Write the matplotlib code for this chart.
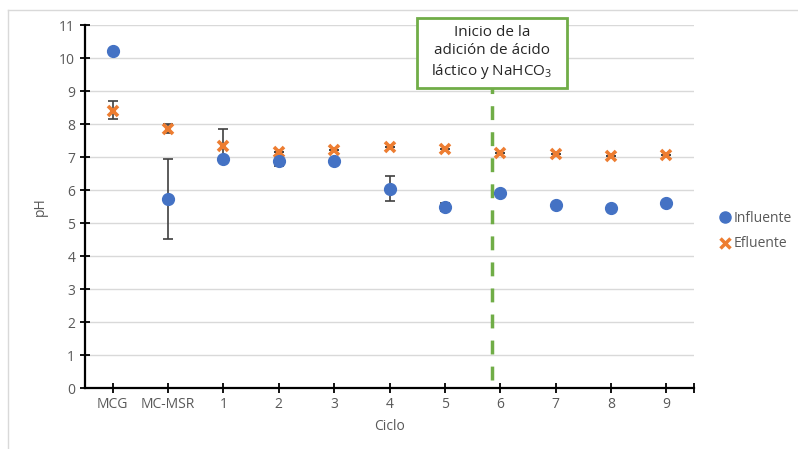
import numpy as np
import matplotlib.pyplot as plt
import matplotlib.patches as mpatches
from matplotlib.lines import Line2D

plt.rcParams['font.family'] = ['Open Sans', 'DejaVu Sans']

ciclos = ['MCG', 'MC-MSR', '1', '2', '3', '4', '5', '6', '7', '8', '9']
influente = [10.23, 5.73, 6.94, 6.89, 6.89, 6.05, 5.50, 5.92, 5.55, 5.45, 5.60]
efluente = [8.40, 7.87, 7.33, 7.17, 7.22, 7.32, 7.24, 7.13, 7.11, 7.05, 7.08]
# error bars (lower, upper)
inf_err_lo = [0.0, 1.21, 0.08, 0.15, 0.0, 0.37, 0.12, 0.0, 0.0, 0.0, 0.0]
inf_err_hi = [0.0, 1.21, 0.08, 0.05, 0.0, 0.39, 0.12, 0.0, 0.0, 0.0, 0.0]
ef_err_lo = [0.25, 0.14, 0.40, 0.0, 0.0, 0.0, 0.0, 0.0, 0.0, 0.0, 0.0]
ef_err_hi = [0.30, 0.13, 0.52, 0.0, 0.0, 0.0, 0.0, 0.0, 0.0, 0.0, 0.0]

blue = '#4472C4'
orange = '#ED7D31'
green = '#70AD47'
grey_txt = '#595959'

fig = plt.figure(figsize=(7.98, 4.49), dpi=100)
ax = fig.add_axes([0.1065, 0.1352, 0.7632, 0.8085])
x = np.arange(len(ciclos))

ax.errorbar(x, efluente, yerr=[ef_err_lo, ef_err_hi], fmt='none', ecolor='#404040',
            elinewidth=1.2, capsize=3.5, capthick=1.2, zorder=2)
ax.errorbar(x, influente, yerr=[inf_err_lo, inf_err_hi], fmt='none', ecolor='#404040',
            elinewidth=1.2, capsize=3.5, capthick=1.2, zorder=2)
ax.plot(x, efluente, 'x', color=orange, ms=7, mew=2.6, zorder=3, label='Efluente')
ax.plot(x, influente, 'o', color=blue, ms=8.5, mec=blue, zorder=4, label='Influente')

ax.set_xlim(-0.5, 10.5)
ax.set_ylim(0, 11)
ax.set_yticks(range(0, 12))
ax.set_xticks(x)
ax.set_xticklabels(ciclos)
ax.set_xticks([10.5], minor=True)
ax.yaxis.grid(True, color='#d9d9d9', lw=1)
ax.set_axisbelow(True)
for s in ['top', 'right']:
    ax.spines[s].set_visible(False)
for s in ['left', 'bottom']:
    ax.spines[s].set_linewidth(1.6)
    ax.spines[s].set_color('black')
ax.tick_params(axis='both', which='both', direction='inout', length=7, width=1.3,
               colors='black', labelcolor=grey_txt, labelsize=10)
ax.tick_params(axis='x', pad=3)
ax.set_ylabel('pH', color=grey_txt, fontsize=10, labelpad=8)
ax.set_xlabel('Ciclo', color=grey_txt, fontsize=10, labelpad=5)

# dashed marker line
ax.plot([6.85, 6.85], [0.25, 9.1], color=green, lw=2.5, dashes=(4, 3.5), zorder=1)

# annotation box
fig.patches.append(mpatches.Rectangle((0.5226, 0.804), 0.188, 0.156, transform=fig.transFigure,
                                      fill=True, facecolor='white', edgecolor=green, lw=2))
fig.text(0.6165, 0.882, 'Inicio de la\nadición de ácido\nláctico y NaHCO$_\\mathregular{3}$',
         ha='center', va='center', fontsize=11, color='#262626', linespacing=1.3)

# chart border
fig.add_artist(Line2D([0.01, 1.0], [0.978, 0.978], transform=fig.transFigure, color='#d9d9d9', lw=1))
fig.add_artist(Line2D([0.01, 0.01], [0.0, 0.978], transform=fig.transFigure, color='#d9d9d9', lw=1))

h_inf = Line2D([], [], marker='o', color=blue, ls='none', ms=8)
h_ef = Line2D([], [], marker='x', color=orange, ls='none', ms=6.5, mew=2.5)
fig.legend([h_inf, h_ef], ['Influente', 'Efluente'], loc='center left',
           bbox_to_anchor=(0.888, 0.485), frameon=False, handlelength=0.6,
           handletextpad=0.3, labelspacing=0.75, fontsize=10, labelcolor=grey_txt)

fig.savefig('out.png', dpi=100)
